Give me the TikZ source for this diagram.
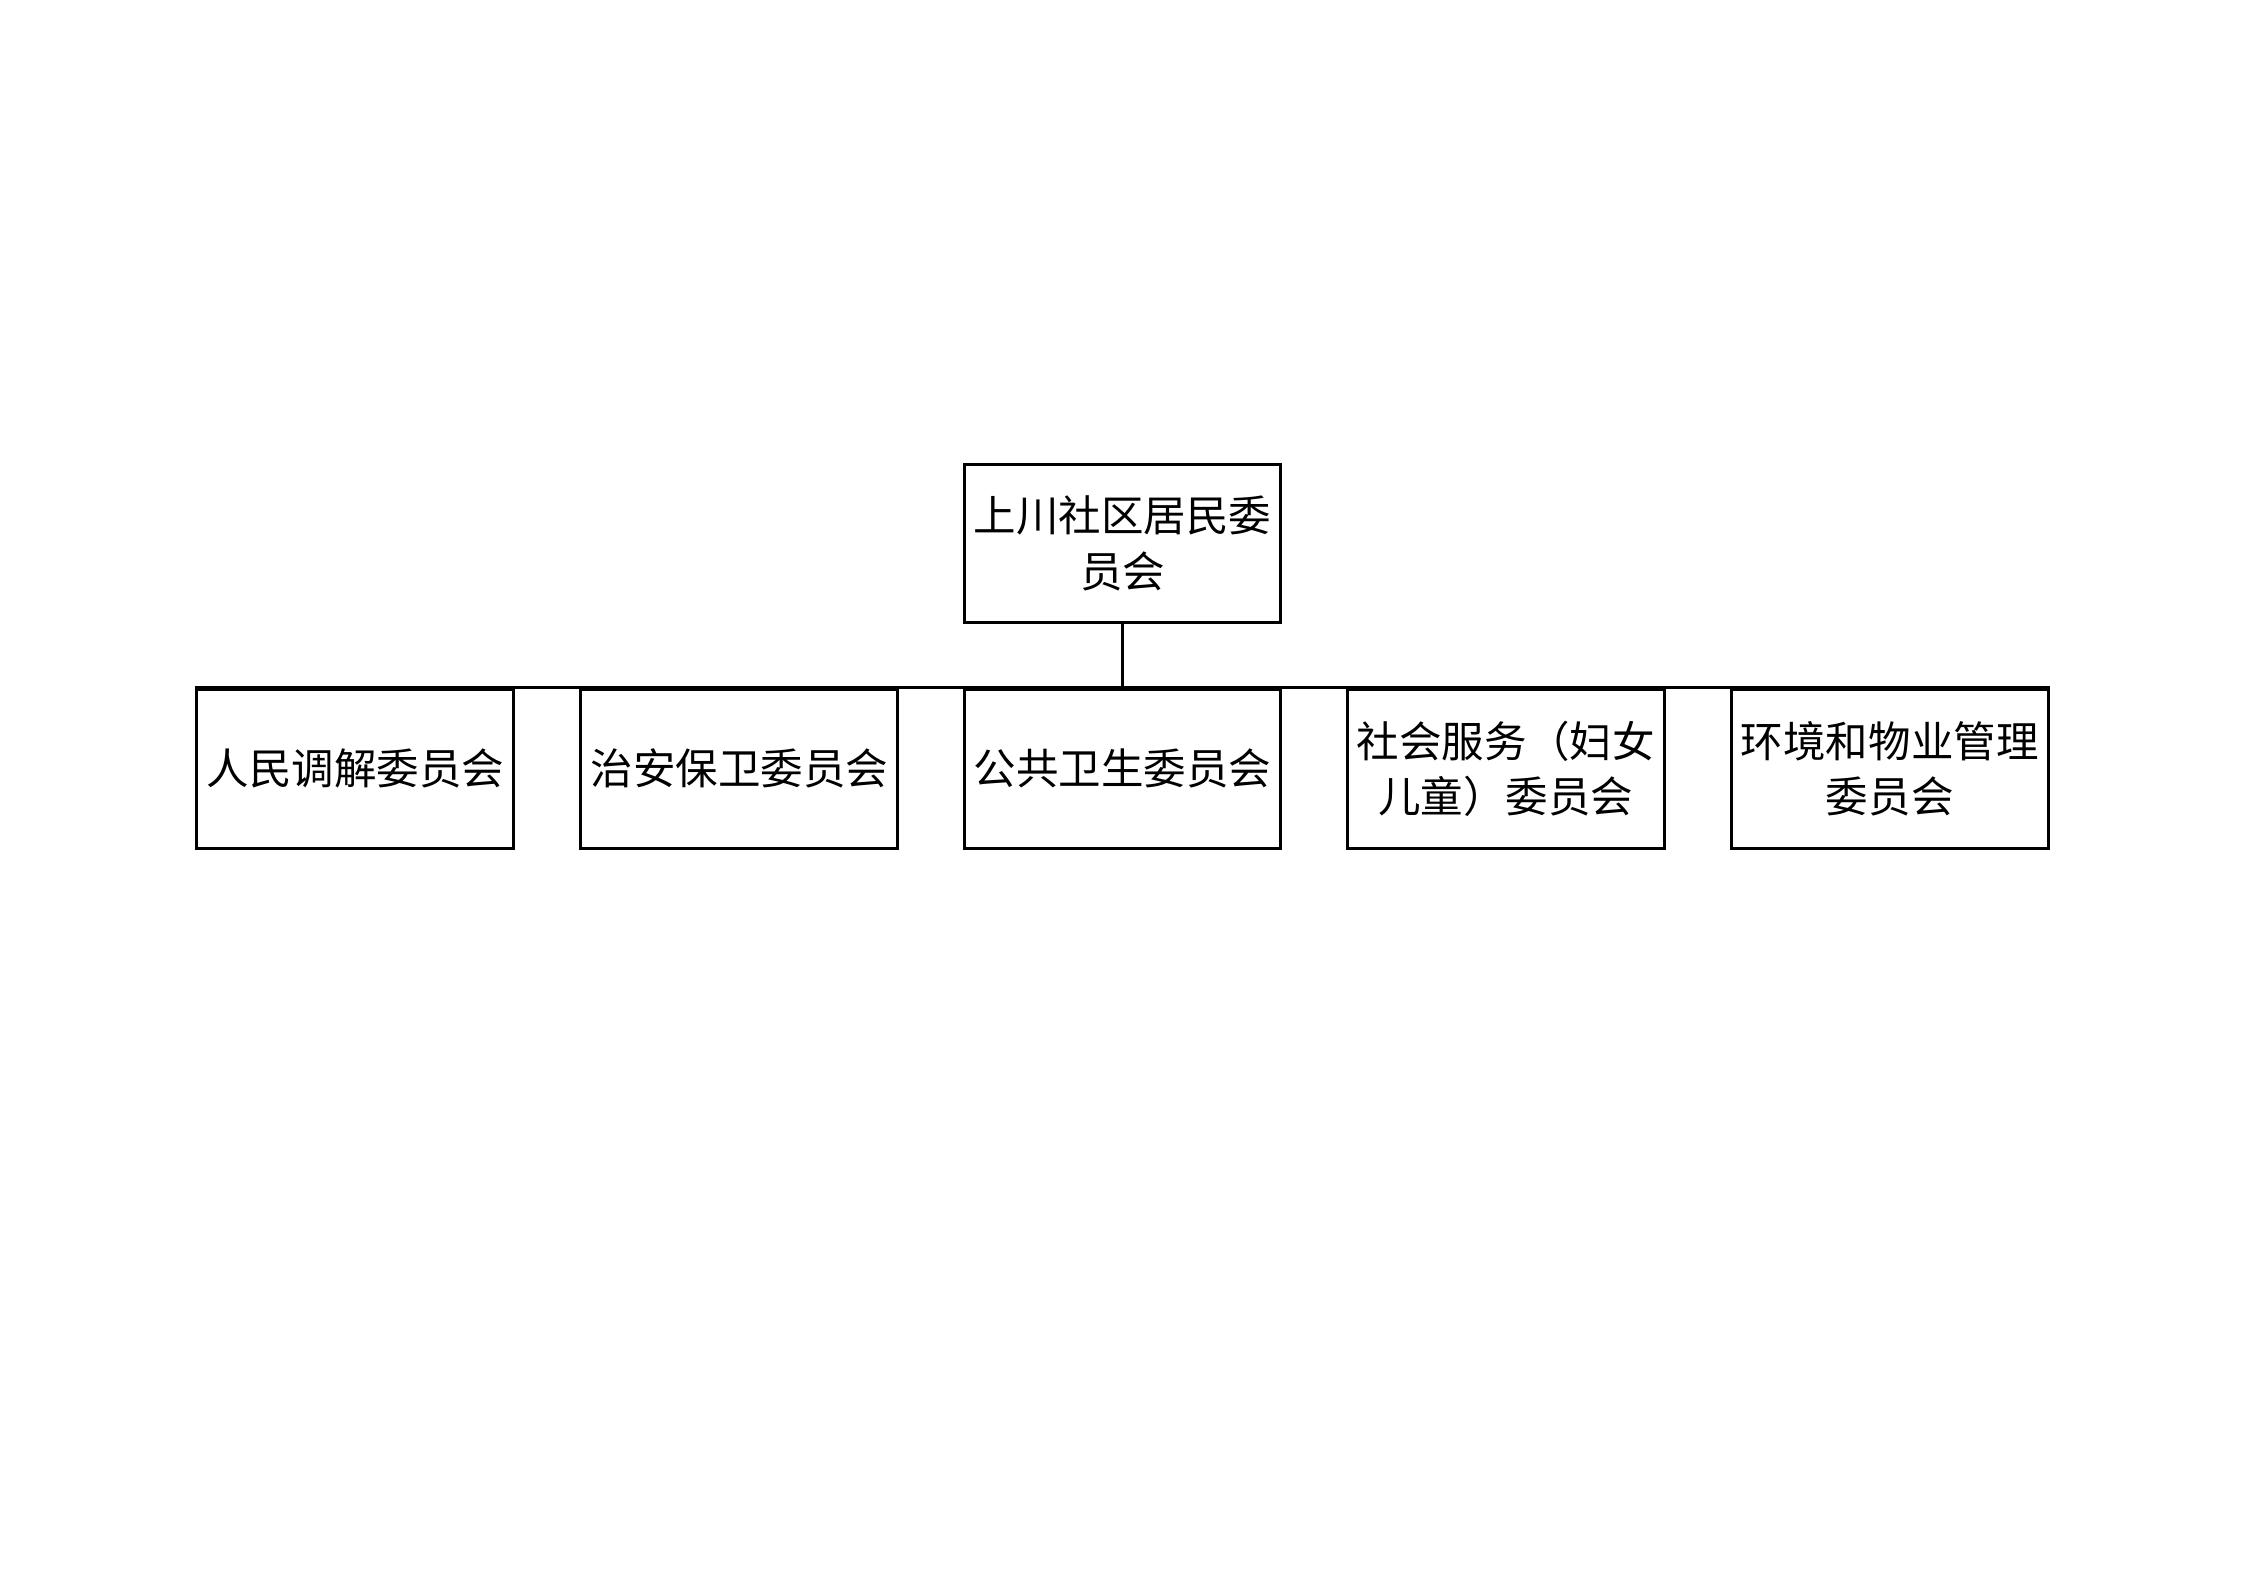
\documentclass[tikz,border=0pt]{standalone}
\usepackage{fontspec}
\newfontfamily\cjk{Noto Sans CJK SC}
\tikzset{
  unit/.style={draw, line width=1.1pt, minimum width=4.19cm, minimum height=2.1cm,
    inner sep=0pt, align=center, font=\cjk\fontsize{16}{21}\selectfont}
}
\begin{document}
\begin{tikzpicture}
\useasboundingbox (0,0) rectangle (29.7,21);
\draw (14.85,13.81) node[unit](top){上川社区居民委\\员会};
\draw (4.70,10.83) node[unit](c1){人民调解委员会};
\draw (9.78,10.83) node[unit](c2){治安保卫委员会};
\draw (14.85,10.83) node[unit](c3){公共卫生委员会};
\draw (19.92,10.83) node[unit](c4){社会服务（妇女\\儿童）委员会};
\draw (25.00,10.83) node[unit](c5){环境和物业管理\\委员会};
\draw[line width=1.1pt] (top.south)--(c3.north);
\draw[line width=1.1pt] (c1.north west)--(c5.north east);
\end{tikzpicture}
\end{document}
